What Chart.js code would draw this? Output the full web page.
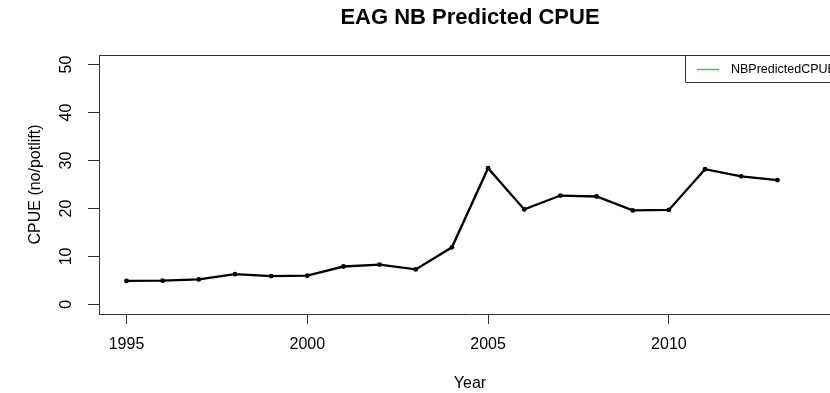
<!DOCTYPE html>
<html>
<head>
<meta charset="utf-8">
<script src="https://cdn.jsdelivr.net/npm/chart.js@4/dist/chart.umd.min.js"></script>
<style>
  html, body { margin: 0; padding: 0; background: #ffffff; overflow: hidden; }
  #wrap { width: 830px; height: 393px; overflow: hidden; position: relative; }
  canvas { display: block; }
</style>
</head>
<body>
<div id="wrap"><canvas id="c" width="880" height="393" style="width:880px;height:393px"></canvas></div>
<script>
// ---- data ----
const years = [1995, 1996, 1997, 1998, 1999, 2000, 2001, 2002, 2003, 2004,
               2005, 2006, 2007, 2008, 2009, 2010, 2011, 2012, 2013];
const cpue = [4.9, 4.95, 5.2, 6.3, 5.9, 6.0, 7.9, 8.3, 7.3, 11.9,
              28.4, 19.8, 22.7, 22.5, 19.6, 19.7, 28.2, 26.7, 25.9];
const xTicks = [1995, 2000, 2005, 2010];
const yTicks = [0, 10, 20, 30, 40, 50];
const chartTitle = 'EAG NB Predicted CPUE';
const xTitle = 'Year';
const yTitle = 'CPUE (no/potlift)';
const legendLabel = 'NBPredictedCPUE';
const legendColor = '#3fd33f';

const FONT = 'Arial, "Liberation Sans", Helvetica, sans-serif';
const AXIS_COLOR = '#333333';

const boxPlugin = {
  id: 'boxAndLegend',
  afterDraw(chart) {
    const { ctx, chartArea: a } = chart;
    const W = chart.width + 20;
    ctx.save();
    ctx.strokeStyle = AXIS_COLOR;
    ctx.lineWidth = 1;
    // top edge of the plot box (right edge lies outside the picture)
    ctx.beginPath();
    ctx.moveTo(a.left, a.top + 0.5);
    ctx.lineTo(W, a.top + 0.5);
    ctx.stroke();
    // legend box (top-right inside plot, right side off-picture)
    const lx = 685.5, ly = a.top + 0.5, lh = 27;
    ctx.fillStyle = '#ffffff';
    ctx.fillRect(lx, ly, W - lx, lh);
    ctx.beginPath();
    ctx.moveTo(W, ly);
    ctx.lineTo(lx, ly);
    ctx.lineTo(lx, ly + lh);
    ctx.lineTo(W, ly + lh);
    ctx.stroke();
    ctx.strokeStyle = legendColor;
    ctx.lineWidth = 1.5;
    ctx.beginPath();
    ctx.moveTo(697, ly + 14);
    ctx.lineTo(719, ly + 14);
    ctx.stroke();
    ctx.fillStyle = '#000000';
    ctx.font = '12.5px ' + FONT;
    ctx.textBaseline = 'middle';
    ctx.textAlign = 'left';
    ctx.fillText(legendLabel, 731, ly + 14);
    ctx.restore();
  }
};

new Chart(document.getElementById('c'), {
  type: 'line',
  data: {
    datasets: [{
      label: legendLabel,
      data: years.map((y, i) => ({ x: y, y: cpue[i] })),
      borderColor: '#000000',
      backgroundColor: '#000000',
      borderWidth: 2.3,
      pointRadius: 2.4,
      pointBackgroundColor: '#000000',
      pointBorderWidth: 0,
      tension: 0,
      fill: false
    }]
  },
  options: {
    responsive: false,
    animation: false,
    layout: { padding: { left: 0, right: 39, top: 0, bottom: 0 } },
    plugins: {
      legend: { display: false },
      tooltip: { enabled: false },
      title: {
        display: true,
        text: chartTitle,
        fullSize: false,
        color: '#000000',
        font: { family: FONT, size: 22, weight: 'bold', lineHeight: 1.2 },
        padding: { top: 5, bottom: 23.6 }
      }
    },
    scales: {
      x: {
        type: 'linear',
        min: 1994.24,
        max: 2014.76,
        afterBuildTicks(scale) { scale.ticks = xTicks.map(v => ({ value: v })); },
        afterFit(scale) { scale.height = 79; },
        ticks: {
          color: '#000000',
          font: { family: FONT, size: 16 },
          maxRotation: 0,
          autoSkip: false,
          padding: 11,
          callback: v => String(v)
        },
        grid: { drawOnChartArea: false, tickLength: 10, color: AXIS_COLOR, tickColor: AXIS_COLOR },
        border: { display: true, color: AXIS_COLOR, width: 1 },
        title: {
          display: true,
          text: xTitle,
          color: '#000000',
          font: { family: FONT, size: 16 },
          padding: { top: 0, bottom: 0 }
        }
      },
      y: {
        type: 'linear',
        min: -2,
        max: 52,
        afterBuildTicks(scale) { scale.ticks = yTicks.map(v => ({ value: v })); },
        afterFit(scale) { scale.width = 99; },
        ticks: {
          color: '#000000',
          font: { family: FONT, size: 16 },
          minRotation: 90,
          maxRotation: 90,
          crossAlign: 'center',
          autoSkip: false,
          padding: 13
        },
        grid: { drawOnChartArea: false, tickLength: 11, color: AXIS_COLOR, tickColor: AXIS_COLOR },
        border: { display: true, color: AXIS_COLOR, width: 1 },
        title: {
          display: true,
          text: yTitle,
          color: '#000000',
          font: { family: FONT, size: 16 },
          padding: { top: 26, bottom: 0 }
        }
      }
    }
  },
  plugins: [boxPlugin]
});
</script>
</body>
</html>
